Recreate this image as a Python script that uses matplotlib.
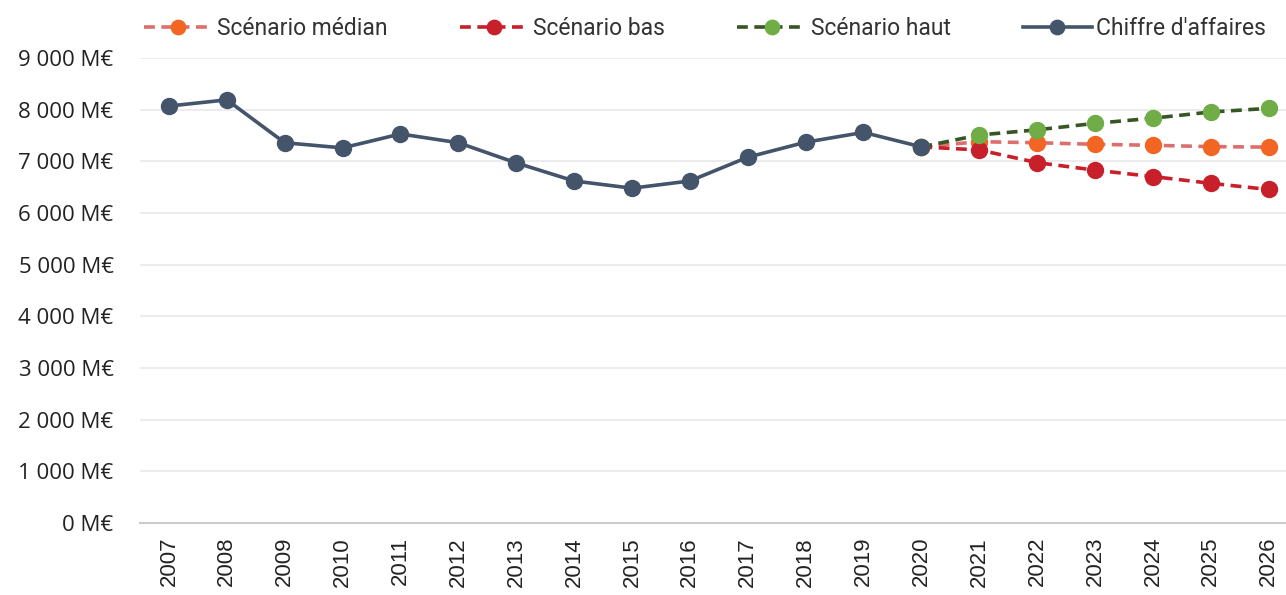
import numpy as np
import matplotlib.pyplot as plt

years = [str(y) for y in range(2007, 2027)]
ca = [8070, 8190, 7360, 7260, 7530, 7360, 6970, 6620, 6480, 6620,
      7080, 7370, 7560, 7280]
scen_years = years[13:]
median = [7280, 7380, 7360, 7330, 7310, 7285, 7275]
bas = [7280, 7220, 6975, 6830, 6705, 6575, 6455]
haut = [7280, 7510, 7610, 7735, 7835, 7955, 8025]
yticks = list(range(0, 10000, 1000))

fig = plt.figure(figsize=(12.86, 5.95), dpi=100)
ax = fig.add_axes([140 / 1286, 1 - 523 / 595, 1 - 140 / 1286, (523 - 58) / 595])

x_all = np.arange(len(years))
x_ca = x_all[:len(ca)]
x_sc = x_all[13:]

ms = 11.5
lw = 2.6
dash = (0, (3, 1.8))
ax.plot(x_sc, median, ls=dash, color='#dc6e6e', lw=lw, marker='o', ms=ms,
        mfc='#f26522', mec='#f26522', label='Scénario médian', zorder=3)
ax.plot(x_sc, bas, ls=dash, color='#c8202a', lw=lw, marker='o', ms=ms,
        mfc='#c8202a', mec='#c8202a', label='Scénario bas', zorder=3)
ax.plot(x_sc, haut, ls=dash, color='#375623', lw=lw, marker='o', ms=ms,
        mfc='#70ad47', mec='#70ad47', label='Scénario haut', zorder=4)
ax.plot(x_ca, ca, color='#44546a', lw=lw, marker='o', ms=ms, label="Chiffre d'affaires", zorder=5)

ax.set_ylim(0, 9000)
ax.set_xlim(-0.5, len(years) - 0.7)
ax.set_yticks(yticks)
ax.set_yticklabels([f"{v // 1000} 000 M€" if v else "0 M€" for v in yticks],
                   fontsize=16, family=['Open Sans', 'DejaVu Sans'], color='#222222')
ax.set_xticks(x_all)
ax.set_xticklabels(years, rotation=90, fontsize=16, family='Liberation Sans', color='#222222')
ax.grid(axis='y', color='#ebebeb', lw=1.3)
ax.set_axisbelow(True)
for s in ['top', 'right', 'left']:
    ax.spines[s].set_visible(False)
ax.spines['bottom'].set_color('#cccccc')
ax.spines['bottom'].set_linewidth(1.5)
ax.tick_params(axis='y', length=0, pad=19)
ax.tick_params(axis='x', length=0, pad=10)

leg = ax.legend(loc='lower center', bbox_to_anchor=(0.493, 0.995), ncol=4, frameon=False,
                prop={'family': 'Roboto', 'size': 16.5}, handlelength=3.0, columnspacing=3.15,
                handletextpad=0.2, markerscale=0.9)
for t in leg.get_texts():
    t.set_color('#333333')

fig.savefig('out.png', dpi=100)
